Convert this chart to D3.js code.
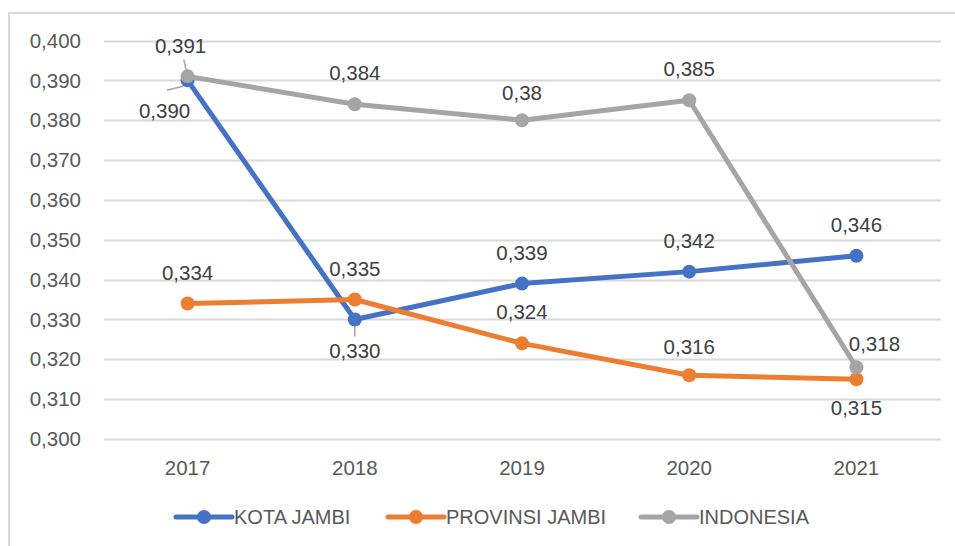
<!DOCTYPE html>
<html>
<head>
<meta charset="utf-8">
<script src="https://cdn.jsdelivr.net/npm/d3@7"></script>
<style>
  body { margin: 0; background: #fff; }
  svg { display: block; font-family: "Liberation Sans", Arial, sans-serif; }
</style>
</head>
<body>
<svg id="chart" width="955" height="546" viewBox="0 0 955 546"></svg>
<script>
// data
const years = ["2017", "2018", "2019", "2020", "2021"]
const kotaJambi = [0.390, 0.330, 0.339, 0.342, 0.346]
const provinsiJambi = [0.334, 0.335, 0.324, 0.316, 0.315]
const indonesia = [0.391, 0.384, 0.380, 0.385, 0.318]
const labelText = {
    "INDONESIA": ["0,391", "0,384", "0,38", "0,385", "0,318"]
}
const yTicks = d3.range(0.300, 0.4001, 0.010)

// label placement (dx, dy from the point, optional leader line)
const labelPos = {
    "KOTA JAMBI": [[-23, 30, true], [0, 31, true], [0, -31], [0, -31], [0, -31]],
    "PROVINSI JAMBI": [[0, -31], [0, -31], [0, -32], [0, -28], [0, 29]],
    "INDONESIA": [[-7, -31, true], [0, -31], [0, -27], [0, -31], [18, -23]]
}

const series = [
    {name: "KOTA JAMBI", values: kotaJambi, color: "#4472C4"},
    {name: "PROVINSI JAMBI", values: provinsiJambi, color: "#ED7D31"},
    {name: "INDONESIA", values: indonesia, color: "#A5A5A5"}
]

const svg = d3.select("#chart")

// outer border (cropped at right and bottom)
svg.append("path")
    .attr("d", "M9,560 V13 H970")
    .attr("fill", "none")
    .attr("stroke", "#d9d9d9")
    .attr("stroke-width", 2)

const x = d3.scalePoint()
    .domain(years)
    .range([104, 940])
    .padding(0.5)

const y = d3.scaleLinear()
    .domain([0.300, 0.400])
    .range([439, 40.5])

// gridlines
svg.append("g")
    .selectAll("line")
    .data(yTicks)
    .enter()
    .append("line")
    .attr("x1", 104)
    .attr("x2", 941)
    .attr("y1", d => Math.round(y(d)) + 0.5)
    .attr("y2", d => Math.round(y(d)) + 0.5)
    .attr("stroke", "#d9d9d9")
    .attr("stroke-width", 2)

// y axis labels
svg.append("g")
    .selectAll("text")
    .data(yTicks)
    .enter()
    .append("text")
    .attr("x", 81)
    .attr("y", d => y(d))
    .attr("dy", "0.35em")
    .attr("text-anchor", "end")
    .attr("font-size", 20.5)
    .attr("fill", "#595959")
    .text(d => d3.format(".3f")(d).replace(".", ","))

// x axis labels
svg.append("g")
    .selectAll("text")
    .data(years)
    .enter()
    .append("text")
    .attr("x", d => x(d))
    .attr("y", 468)
    .attr("dy", "0.35em")
    .attr("text-anchor", "middle")
    .attr("font-size", 20.5)
    .attr("fill", "#595959")
    .text(d => d)

const line = d3.line()
    .x((d, i) => x(years[i]))
    .y(d => y(d))

// gray drawn last, it sits on top of blue at 2017
series.forEach(s => {
    const g = svg.append("g")
    g.append("path")
        .datum(s.values)
        .attr("d", line)
        .attr("fill", "none")
        .attr("stroke", s.color)
        .attr("stroke-width", 5)
        .attr("stroke-linejoin", "round")
    g.selectAll("circle")
        .data(s.values)
        .enter()
        .append("circle")
        .attr("cx", (d, i) => x(years[i]))
        .attr("cy", d => y(d))
        .attr("r", 7)
        .attr("fill", s.color)
})

// data labels
series.forEach(s => {
    const pos = labelPos[s.name]
    s.values.forEach((v, i) => {
        const px = x(years[i]), py = y(v)
        const [dx, dy, leader] = pos[i]
        const txt = labelText[s.name] ? labelText[s.name][i] : d3.format(".3f")(v).replace(".", ",")
        if (leader) {
            const lx = px + dx * 0.55, ly = py + dy * 0.55
            svg.append("line")
                .attr("x1", px + dx * 0.2).attr("y1", py + dy * 0.2)
                .attr("x2", dx < -10 ? px + dx * 0.9 : lx)
                .attr("y2", dx < -10 ? py + dy * 0.33 : ly)
                .attr("stroke", "#a6a6a6")
                .attr("stroke-width", 1.5)
        }
        svg.append("text")
            .attr("x", px + dx)
            .attr("y", py + dy)
            .attr("dy", "0.35em")
            .attr("text-anchor", "middle")
            .attr("font-size", 20.5)
            .attr("fill", "#404040")
            .text(txt)
    })
})

// legend
const legendX = [176, 388, 641]
const legend = svg.append("g")
series.forEach((s, i) => {
    const lg = legend.append("g").attr("transform", `translate(${legendX[i]},517)`)
    lg.append("line")
        .attr("x1", 0).attr("x2", 56)
        .attr("stroke", s.color)
        .attr("stroke-width", 5)
        .attr("stroke-linecap", "round")
    lg.append("circle")
        .attr("cx", 28)
        .attr("r", 7)
        .attr("fill", s.color)
    lg.append("text")
        .attr("x", 58)
        .attr("dy", "0.35em")
        .attr("font-size", 20)
        .attr("fill", "#595959")
        .text(s.name)
})
</script>
</body>
</html>
